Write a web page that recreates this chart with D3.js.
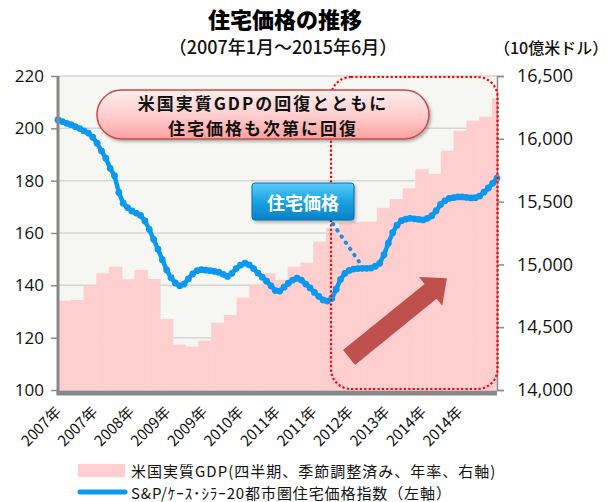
<!DOCTYPE html>
<html>
<head>
<meta charset="utf-8">
<script src="https://cdn.jsdelivr.net/npm/d3@7"></script>
<style>
  body { margin: 0; background: #fff; }
  svg text { font-family: "Noto Sans CJK JP", sans-serif; }
</style>
</head>
<body>
<script>
// quarterly real GDP (bn USD, right axis), 2006Q4 .. 2015Q2
const quarters = ["2006Q4","2007Q1","2007Q2","2007Q3","2007Q4","2008Q1","2008Q2","2008Q3","2008Q4",
  "2009Q1","2009Q2","2009Q3","2009Q4","2010Q1","2010Q2","2010Q3","2010Q4","2011Q1","2011Q2","2011Q3",
  "2011Q4","2012Q1","2012Q2","2012Q3","2012Q4","2013Q1","2013Q2","2013Q3","2013Q4","2014Q1","2014Q2",
  "2014Q3","2014Q4","2015Q1","2015Q2"];
const gdp = [14709,14717,14831,14929,14982,14881,14955,14884,14565,
  14361,14345,14393,14536,14597,14735,14841,14929,14876,14982,15014,
  15181,15290,15330,15340,15340,15450,15520,15606,15757,15720,15905,
  16064,16144,16176,16322];

// S&P/Case-Shiller 20 city index, monthly Jan 2007 .. Jun 2015 (left axis)
const hpi = [
  203.2,202.6,201.9,201.4,200.6,199.9,199.0,198.2,196.6,194.3,191.4,188.6,
  184.7,181.9,175.5,171.4,169.7,168.4,167.6,166.7,164.6,161.4,157.6,153.8,
  149.8,145.9,142.9,140.9,139.8,140.5,142.5,144.4,145.6,146.0,145.8,145.6,
  145.3,145.0,144.2,143.4,144.6,146.4,147.7,148.5,147.8,146.4,144.7,143.1,
  141.6,139.8,138.0,137.8,139.3,140.8,142.0,142.7,142.0,140.5,139.0,137.3,
  135.8,134.4,134.0,135.0,138.5,142.3,144.6,145.7,146.2,146.4,146.5,146.5,
  146.6,147.3,148.4,151.7,156.1,160.1,163.0,164.7,165.3,165.6,165.4,165.2,
  165.0,165.6,166.6,168.5,170.9,172.3,173.2,173.5,173.8,173.8,173.6,173.4,
  173.5,174.1,175.6,177.2,179.0,181.0
];

const xTickLabels = ["2007年","2007年","2008年","2009年","2009年","2010年",
  "2011年","2011年","2012年","2013年","2014年","2014年"];
const leftTicks = [100,120,140,160,180,200,220];
const rightTicks = [14000,14500,15000,15500,16000,16500];

const width = 608;
const height = 502;
const marginTop = 76;
const marginRight = 111;
const marginBottom = 112;
const marginLeft = 58;
const plotRight = width - marginRight;
const plotBottom = height - marginBottom;

const quarterSpan = 34.4;   // quarters shown across the plot (last one is cut)
const tickStep = 8.4;       // months between category labels

const xMonth = d3.scaleLinear()
    .domain([0, hpi.length - 1])
    .range([marginLeft, plotRight]);

const xQuarter = d3.scaleLinear()
    .domain([0, quarterSpan])
    .range([marginLeft, plotRight]);

const yLeft = d3.scaleLinear()
    .domain([100, 220])
    .range([plotBottom, marginTop]);

const yRight = d3.scaleLinear()
    .domain([14000, 16500])
    .range([plotBottom, marginTop]);

const svg = d3.select("body").append("svg")
    .attr("width", width)
    .attr("height", height)
    .attr("viewBox", [0, 0, width, height]);

const defs = svg.append("defs");
const pillGrad = defs.append("linearGradient").attr("id", "pill").attr("x1", 0).attr("x2", 0).attr("y1", 0).attr("y2", 1);
pillGrad.append("stop").attr("offset", "0%").attr("stop-color", "#ffeeee");
pillGrad.append("stop").attr("offset", "55%").attr("stop-color", "#ffcccc");
pillGrad.append("stop").attr("offset", "100%").attr("stop-color", "#ff9f9f");
const blueGrad = defs.append("linearGradient").attr("id", "blue").attr("x1", 0).attr("x2", 0).attr("y1", 0).attr("y2", 1);
blueGrad.append("stop").attr("offset", "0%").attr("stop-color", "#5fcdf7");
blueGrad.append("stop").attr("offset", "45%").attr("stop-color", "#1ea6e6");
blueGrad.append("stop").attr("offset", "100%").attr("stop-color", "#0b80c6");
const shadow = defs.append("filter").attr("id", "shadow").attr("x", "-10%").attr("y", "-20%").attr("width", "130%").attr("height", "160%");
shadow.append("feDropShadow").attr("dx", 1.5).attr("dy", 2).attr("stdDeviation", 1.5).attr("flood-color", "#000").attr("flood-opacity", 0.3);

// plot background
svg.append("rect")
    .attr("x", marginLeft)
    .attr("y", marginTop)
    .attr("width", plotRight - marginLeft)
    .attr("height", plotBottom - marginTop)
    .attr("fill", "#f6f6f2");

// gridlines
svg.append("g")
    .selectAll("line")
    .data(leftTicks.slice(1))
    .join("line")
    .attr("x1", marginLeft)
    .attr("x2", plotRight)
    .attr("y1", d => yLeft(d))
    .attr("y2", d => yLeft(d))
    .attr("stroke", "#d6d6d6")
    .attr("stroke-width", 1.5);

// GDP columns
svg.append("g")
    .attr("fill", "#ffcfcf")
    .selectAll("rect")
    .data(gdp)
    .join("rect")
    .attr("x", (d, i) => xQuarter(i))
    .attr("width", (d, i) => Math.min(xQuarter(i + 1), plotRight) - xQuarter(i) + 0.5)
    .attr("y", d => yRight(d))
    .attr("height", d => yRight(14000) - yRight(d));

// house price line
const line = d3.line()
    .x((d, i) => xMonth(i))
    .y(d => yLeft(d));

svg.append("path")
    .datum(hpi)
    .attr("fill", "none")
    .attr("stroke", "#0a98f0")
    .attr("stroke-width", 4.5)
    .attr("stroke-linejoin", "round")
    .attr("d", line);

svg.append("g")
    .attr("fill", "#0a98f0")
    .selectAll("circle")
    .data(hpi)
    .join("circle")
    .attr("cx", (d, i) => xMonth(i))
    .attr("cy", d => yLeft(d))
    .attr("r", 3.4);

// left axis
svg.append("g")
    .attr("transform", `translate(${marginLeft},0)`)
    .call(d3.axisLeft(yLeft).tickValues(leftTicks).tickSize(7).tickPadding(7))
    .call(g => g.select(".domain").remove())
    .call(g => g.selectAll(".tick line").attr("stroke", "#8c8c8c").attr("stroke-width", 1.5))
    .call(g => g.selectAll("text")
        .attr("fill", "#111")
        .style("font-family", "'Open Sans', sans-serif")
        .style("font-size", "17px"));

svg.append("line")
    .attr("x1", marginLeft).attr("x2", marginLeft)
    .attr("y1", marginTop).attr("y2", plotBottom + 4)
    .attr("stroke", "#888").attr("stroke-width", 3);

// right axis
svg.append("g")
    .attr("transform", `translate(${plotRight},0)`)
    .call(d3.axisRight(yRight).tickValues(rightTicks).tickFormat(d3.format(",")).tickSize(7).tickPadding(13))
    .call(g => g.select(".domain").attr("stroke", "#8c8c8c").attr("stroke-width", 1.5))
    .call(g => g.selectAll(".tick line").attr("stroke", "#8c8c8c").attr("stroke-width", 1.5))
    .call(g => g.selectAll("text")
        .attr("fill", "#111")
        .style("font-family", "'Open Sans', sans-serif")
        .style("font-size", "18px"));

// bottom axis
svg.append("line")
    .attr("x1", marginLeft - 1.5).attr("x2", plotRight)
    .attr("y1", plotBottom + 3).attr("y2", plotBottom + 3)
    .attr("stroke", "#888").attr("stroke-width", 5);

svg.append("g")
    .selectAll("text")
    .data(xTickLabels)
    .join("text")
    .attr("transform", (d, i) => `translate(${xMonth(i * tickStep) + 4},${plotBottom + 23}) rotate(-45)`)
    .attr("text-anchor", "end")
    .attr("fill", "#111")
    .style("font-size", "15px")
    .text(d => d);

// red dotted highlight
svg.append("rect")
    .attr("x", 331)
    .attr("y", 77)
    .attr("width", plotRight - 331 + 0.5)
    .attr("height", 312)
    .attr("rx", 20)
    .attr("fill", "none")
    .attr("stroke", "#ff0000")
    .attr("stroke-width", 2.2)
    .attr("stroke-dasharray", "2.2 2.2");

// arrow
const arrowLen = 126;
svg.append("path")
    .attr("transform", "translate(349,357.5) rotate(-39)")
    .attr("d", `M0,-9.5 L${arrowLen - 21},-9.5 L${arrowLen - 21},-18.5 L${arrowLen},0 L${arrowLen - 21},18.5 L${arrowLen - 21},9.5 L0,9.5 Z`)
    .attr("fill", "#c0504d");

// connector from label to the line
svg.append("line")
    .attr("x1", 333).attr("y1", 224)
    .attr("x2", 362).attr("y2", 266)
    .attr("stroke", "#1f8fe0")
    .attr("stroke-width", 4)
    .attr("stroke-linecap", "round")
    .attr("stroke-dasharray", "0.5 7");

// blue label
svg.append("rect")
    .attr("x", 252).attr("y", 183)
    .attr("width", 102).attr("height", 37)
    .attr("rx", 3)
    .attr("fill", "url(#blue)")
    .attr("stroke", "#0a6fae")
    .attr("stroke-width", 1)
    .attr("filter", "url(#shadow)");

svg.append("text")
    .attr("x", 303).attr("y", 202)
    .attr("text-anchor", "middle")
    .attr("dominant-baseline", "central")
    .attr("fill", "#fff")
    .style("font-size", "18px")
    .style("font-weight", "bold")
    .text("住宅価格");

// pink callout
svg.append("rect")
    .attr("x", 97).attr("y", 90)
    .attr("width", 332).attr("height", 49)
    .attr("rx", 24.5)
    .attr("fill", "url(#pill)")
    .attr("stroke", "#c0504d")
    .attr("stroke-width", 1.5)
    .attr("filter", "url(#shadow)");

svg.append("g")
    .attr("text-anchor", "middle")
    .attr("fill", "#111")
    .style("font-size", "17px")
    .style("font-weight", "bold")
    .style("letter-spacing", "2px")
    .selectAll("text")
    .data(["米国実質GDPの回復とともに", "住宅価格も次第に回復"])
    .join("text")
    .attr("x", 263)
    .attr("y", (d, i) => 102.3 + i * 24.7)
    .attr("dominant-baseline", "central")
    .text(d => d);

// titles
svg.append("text")
    .attr("x", 285).attr("y", 28)
    .attr("text-anchor", "middle")
    .attr("fill", "#000")
    .style("font-size", "22px")
    .style("font-weight", "900")
    .text("住宅価格の推移");

svg.append("text")
    .attr("x", 283).attr("y", 54)
    .attr("text-anchor", "middle")
    .attr("fill", "#111")
    .style("font-size", "18px")
    .style("font-weight", "500")
    .text("（2007年1月～2015年6月）");

svg.append("text")
    .attr("x", 494).attr("y", 54)
    .attr("fill", "#111")
    .style("font-size", "16px")
    .style("font-weight", "500")
    .text("（10億米ドル）");

// legend
svg.append("rect")
    .attr("x", 78).attr("y", 464)
    .attr("width", 47).attr("height", 13)
    .attr("fill", "#ffcfcf");

svg.append("text")
    .attr("x", 131).attr("y", 470)
    .attr("dominant-baseline", "central")
    .attr("fill", "#111")
    .style("font-size", "15px")
    .style("letter-spacing", "1px")
    .text("米国実質GDP(四半期、季節調整済み、年率、右軸)");

svg.append("line")
    .attr("x1", 80).attr("x2", 125)
    .attr("y1", 492).attr("y2", 492)
    .attr("stroke", "#0a98f0")
    .attr("stroke-width", 5)
    .attr("stroke-linecap", "round");

svg.append("text")
    .attr("x", 131).attr("y", 492)
    .attr("dominant-baseline", "central")
    .attr("fill", "#111")
    .style("font-size", "15px")
    .style("letter-spacing", "0.9px")
    .text("S&P/ｹｰｽ･ｼﾗｰ20都市圏住宅価格指数（左軸）");
</script>
</body>
</html>
